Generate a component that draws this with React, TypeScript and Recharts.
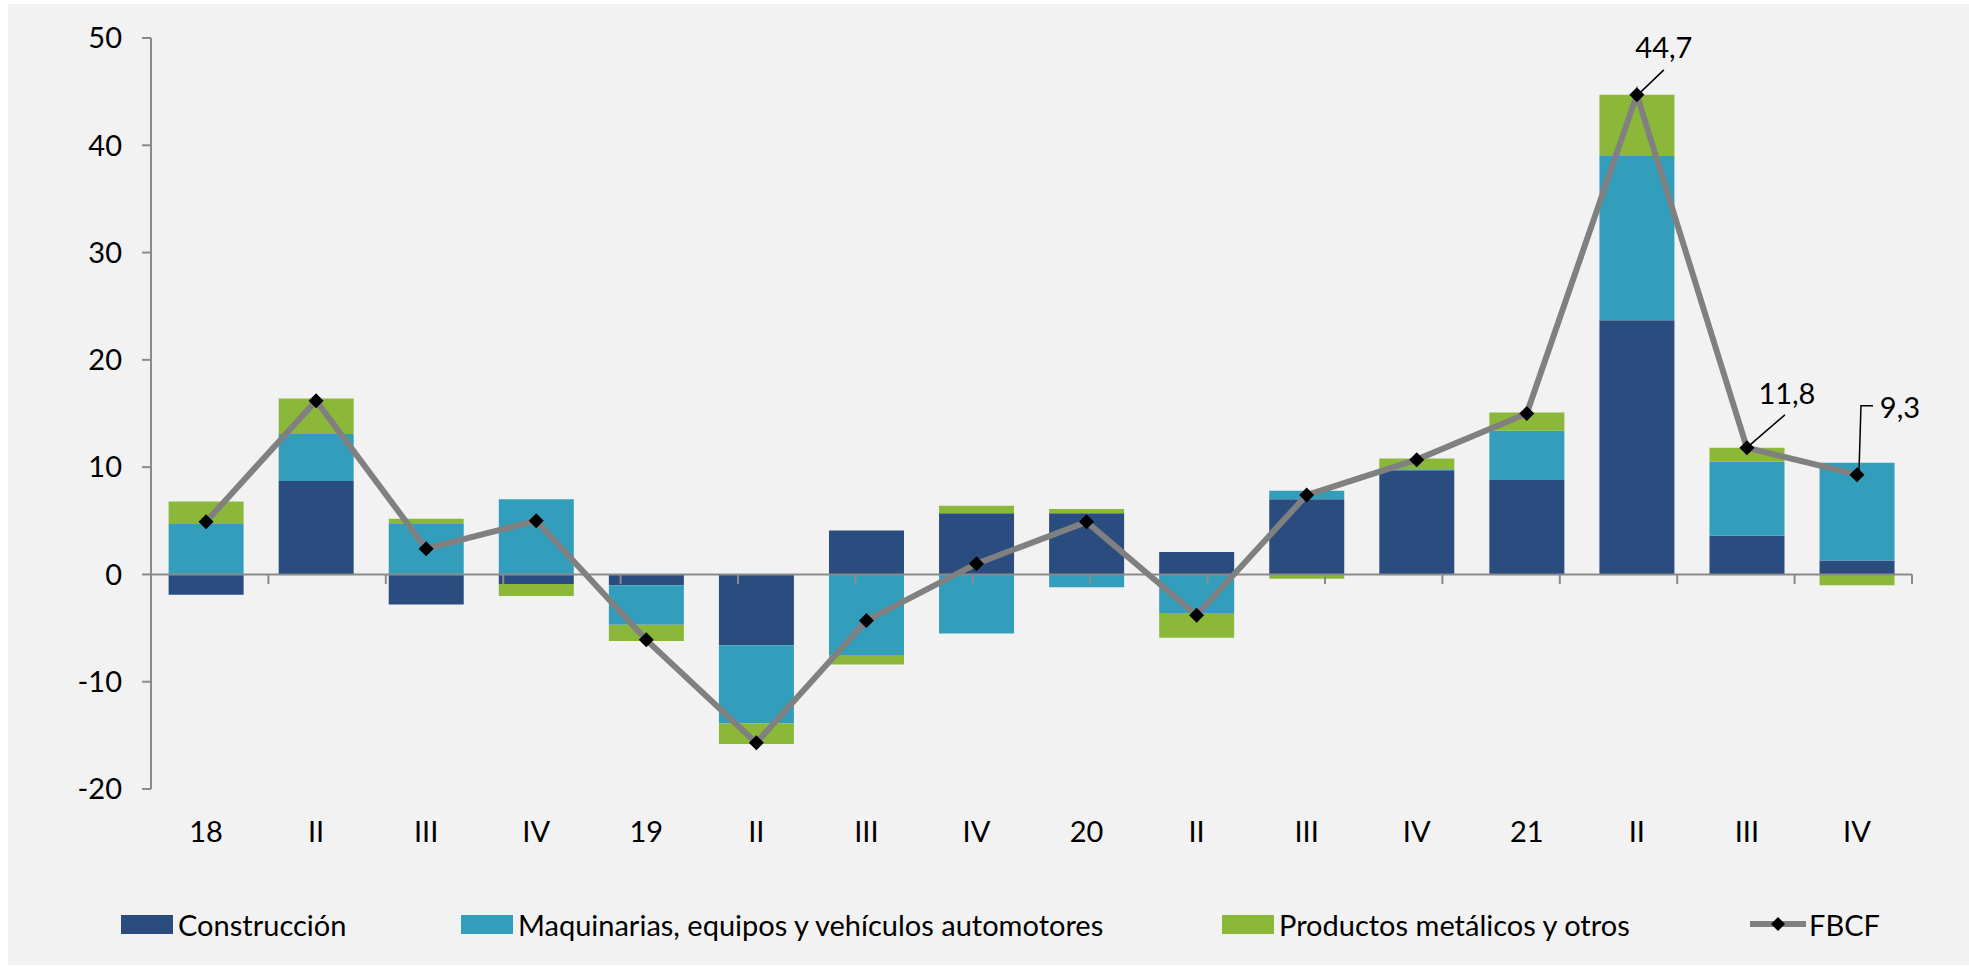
import React from 'react';
import { ComposedChart, Bar, Line, XAxis, YAxis, ReferenceLine, LabelList } from 'recharts';

// quarterly contributions (p.p.) to FBCF growth
const quarters = ['18', 'II', 'III', 'IV', '19', 'II', 'III', 'IV', '20', 'II', 'III', 'IV', '21', 'II', 'III', 'IV'];
const construccion = [-1.9, 8.7, -2.8, -0.9, -1.0, -6.6, 4.1, 5.7, 5.7, 2.1, 7.0, 9.7, 8.8, 23.7, 3.6, 1.3];
const maquinarias = [4.7, 4.4, 4.7, 7.0, -3.7, -7.3, -7.5, -5.5, -1.2, -3.6, 0.8, 0.1, 4.6, 15.3, 6.9, 9.1];
const productos = [2.1, 3.3, 0.5, -1.1, -1.5, -1.9, -0.9, 0.7, 0.4, -2.3, -0.4, 1.0, 1.7, 5.7, 1.3, -1.0];
const fbcf = [4.9, 16.2, 2.4, 5.0, -6.1, -15.7, -4.3, 1.0, 4.9, -3.8, 7.4, 10.7, 15.0, 44.7, 11.8, 9.3];
const yTicks = [-20, -10, 0, 10, 20, 30, 40, 50];
const labelled = [13, 14, 15];

const NAVY = '#2b4c7e';
const TEAL = '#339ebb';
const GREEN = '#8cb83a';
const LINE = '#808080';
const AXIS = '#8a8a8a';
const FONT = 'Lato, "Open Sans", sans-serif';
const FS = 29;

const data = quarters.map((q, i) => ({
  q,
  construccion: construccion[i],
  maquinarias: maquinarias[i],
  productos: productos[i],
  fbcf: fbcf[i],
}));

// boundaries between categories, for the Excel-style tick marks on the zero line
const boundaries = quarters.map((_, i) => i).concat(quarters.length);

// callout offsets relative to the point
const CALLOUTS: Record<number, { dx: number; dy: number; leader: string }> = {
  13: { dx: 27, dy: -37, leader: 'M27,-25L3,-2' },
  14: { dx: 40, dy: -44, leader: 'M38,-33L2,-2' },
  15: { dx: 43, dy: -57, leader: 'M16,-69L4,-69L2,-2' },
};

const Diamond = (props: any) => {
  const { cx, cy, index } = props;
  if (cx == null || cy == null) return null;
  const r = 7.5;
  return <path key={index} d={`M${cx},${cy - r}L${cx + r},${cy}L${cx},${cy + r}L${cx - r},${cy}Z`} fill="#000" />;
};

const Callout = (props: any) => {
  const { x, y, value, index } = props;
  if (!labelled.includes(index)) return null;
  const c = CALLOUTS[index];
  return (
    <g>
      <path d={c.leader} transform={`translate(${x},${y})`} stroke="#000" strokeWidth={1.5} fill="none" />
      <text x={x + c.dx} y={y + c.dy} textAnchor="middle" fill="#000" fontSize={FS} fontFamily={FONT}>
        {String(value).replace('.', ',')}
      </text>
    </g>
  );
};

const QuarterTick = (props: any) => {
  const { x, y, payload } = props;
  return (
    <text x={x} y={y} dy={53} textAnchor="middle" fill="#000" fontSize={FS} fontFamily={FONT}>
      {payload.value}
    </text>
  );
};

const legendItems = [
  { name: 'Construcción', color: NAVY, kind: 'box', left: 121 },
  { name: 'Maquinarias, equipos y vehículos automotores', color: TEAL, kind: 'box', left: 461 },
  { name: 'Productos metálicos y otros', color: GREEN, kind: 'box', left: 1222 },
  { name: 'FBCF', color: LINE, kind: 'line', left: 1750 },
];

const ChartLegend = () => (
  <>
    {legendItems.map((it) => (
      <div
        key={it.name}
        style={{ position: 'absolute', left: it.left, top: 904, height: 40, display: 'flex', alignItems: 'center', whiteSpace: 'nowrap' }}
      >
        {it.kind === 'box' ? (
          <span style={{ display: 'inline-block', width: 52, height: 19, background: it.color, marginRight: 5 }} />
        ) : (
          <svg width={56} height={20} style={{ marginRight: 3 }}>
            <line x1={0} y1={10} x2={56} y2={10} stroke={it.color} strokeWidth={6} />
            <path d="M28,3L35,10L28,17L21,10Z" fill="#000" />
          </svg>
        )}
        <span style={{ fontSize: FS, color: '#000', fontFamily: FONT }}>{it.name}</span>
      </div>
    ))}
  </>
);

export default function App() {
  return (
    <div style={{ position: 'absolute', left: 0, top: 0, width: 1969, height: 967, background: '#fff', fontFamily: FONT }}>
      <div style={{ position: 'absolute', left: 8, top: 4, width: 1961, height: 961, background: '#f2f2f2' }} />
      <div style={{ position: 'absolute', left: 0, top: 0 }}>
        <ComposedChart
          width={1969}
          height={967}
          data={data}
          stackOffset="sign"
          barCategoryGap="16%"
          margin={{ top: 38, right: 57, left: 51, bottom: 118 }}
        >
          <XAxis
            dataKey="q"
            interval={0}
            axisLine={false}
            tickLine={false}
            tickSize={0}
            tickMargin={0}
            height={60}
            tick={<QuarterTick />}
          />
          <XAxis xAxisId="num" type="number" domain={[0, quarters.length]} hide />
          <YAxis
            domain={[-20, 50]}
            ticks={yTicks}
            width={100}
            interval={0}
            axisLine={{ stroke: AXIS, strokeWidth: 2 }}
            tickLine={{ stroke: AXIS, strokeWidth: 2 }}
            tickSize={9}
            tickMargin={20}
            tick={{ fill: '#000', fontSize: FS, fontFamily: FONT }}
          />
          <Bar dataKey="construccion" name="Construcción" stackId="a" fill={NAVY} isAnimationActive={false} />
          <Bar dataKey="maquinarias" name="Maquinarias, equipos y vehículos automotores" stackId="a" fill={TEAL} isAnimationActive={false} />
          <Bar dataKey="productos" name="Productos metálicos y otros" stackId="a" fill={GREEN} isAnimationActive={false} />
          <ReferenceLine xAxisId="num" y={0} stroke={AXIS} strokeWidth={2} />
          {boundaries.map((b) => (
            <ReferenceLine
              key={b}
              xAxisId="num"
              segment={[{ x: b, y: 0 }, { x: b, y: -0.9 }]}
              stroke={AXIS}
              strokeWidth={2}
            />
          ))}
          <Line
            dataKey="fbcf"
            name="FBCF"
            type="linear"
            stroke={LINE}
            strokeWidth={6}
            dot={<Diamond />}
            activeDot={false}
            isAnimationActive={false}
          >
            <LabelList dataKey="fbcf" content={<Callout />} />
          </Line>
        </ComposedChart>
      </div>
      <ChartLegend />
    </div>
  );
}
